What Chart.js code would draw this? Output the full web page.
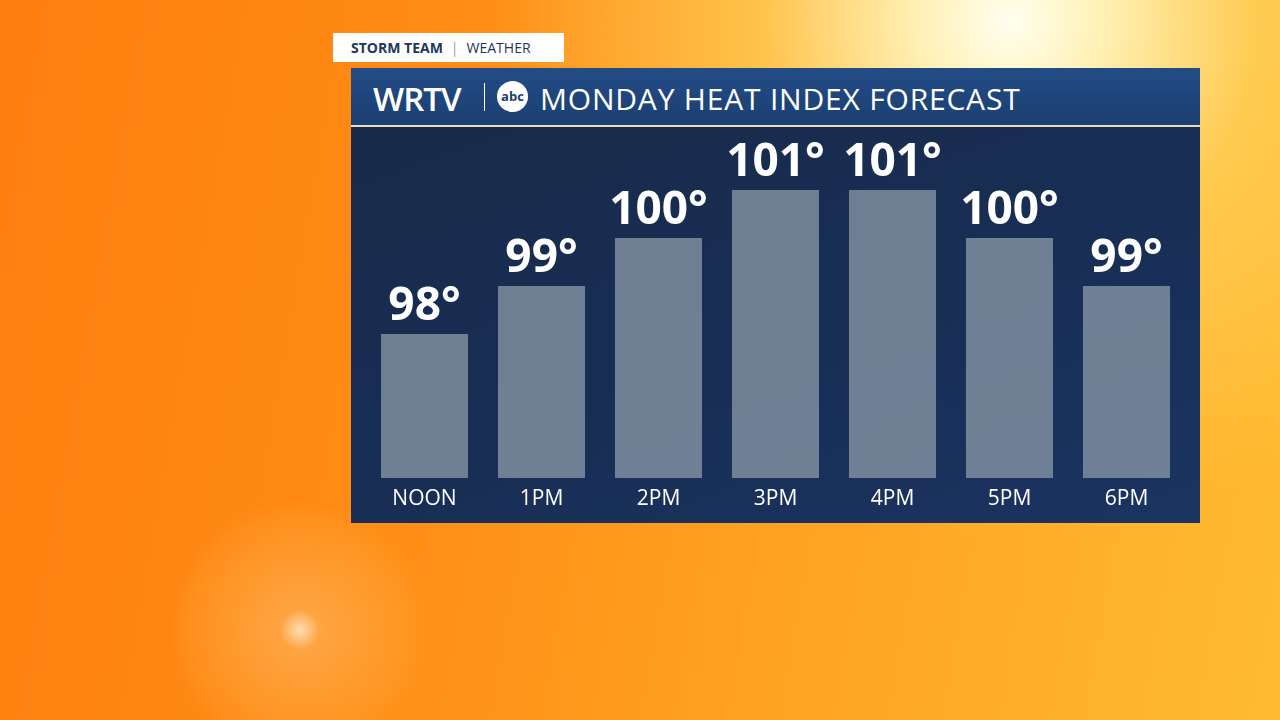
<!DOCTYPE html>
<html><head><meta charset="utf-8">
<script src="https://cdn.jsdelivr.net/npm/chart.js"></script>
<style>
html,body{margin:0;padding:0;width:1280px;height:720px;overflow:hidden;font-family:"Open Sans","Noto Sans",sans-serif;}
#bg{position:absolute;left:0;top:0;width:1280px;height:720px;
background:
radial-gradient(circle at 1010px 20px, rgba(255,255,240,1) 0px, rgba(255,245,190,0.95) 90px, rgba(255,215,100,0.65) 250px, rgba(255,180,40,0) 520px),
radial-gradient(circle at 300px 630px, rgba(255,230,200,0.9) 0px, rgba(255,190,110,0.5) 20px, rgba(255,170,60,0.25) 110px, rgba(255,150,30,0) 130px),
linear-gradient(100deg,#ff7f10 0%,#ff8a14 30%,#ffa020 60%,#ffbb30 100%);}
#panel{position:absolute;left:351px;top:68px;width:849px;height:455px;background:linear-gradient(160deg,#172a48 0%,#182e55 60%,#1b3461 100%);}
#hdr{position:absolute;left:351px;top:68px;width:849px;height:57px;background:linear-gradient(180deg,#234c86,#1b3f72);border-bottom:2px solid #e9dcb0;color:#fff;}
#tag{position:absolute;left:333px;top:33px;width:231px;height:29px;background:#fff;font-size:14px;line-height:29px;color:#1d3661;}
#c{position:absolute;left:0;top:0;}
</style></head><body>
<div id="bg"></div>
<div id="tag"><span style="margin-left:18px;font-weight:700">STORM TEAM</span><span style="margin:0 8px;color:#999">|</span><span>WEATHER</span></div>
<div id="panel"></div>
<div id="hdr">
 <span style="position:absolute;left:22px;top:8px;font-size:33px;font-weight:600;letter-spacing:-1px">WRTV</span>
 <span style="position:absolute;left:133px;top:15px;width:1px;height:28px;background:#fff"></span>
 <span style="position:absolute;left:146px;top:13px;width:31px;height:31px;border-radius:50%;background:#fff;color:#1b3f72;font-size:13px;font-weight:700;text-align:center;line-height:30px">abc</span>
 <span style="position:absolute;left:189px;top:10px;font-size:30px;letter-spacing:0.8px">MONDAY HEAT INDEX FORECAST</span>
</div>
<canvas id="c" width="1280" height="720"></canvas>
<script>
const categories=["NOON","1PM","2PM","3PM","4PM","5PM","6PM"];
const values=[98,99,100,101,101,100,99];
const labelPlugin={id:'lbl',afterDatasetsDraw(chart){
 const ctx=chart.ctx,meta=chart.getDatasetMeta(0);
 ctx.save();ctx.fillStyle='#fff';ctx.textAlign='center';
 meta.data.forEach((b,i)=>{
  ctx.font='700 46px "Open Sans"';ctx.textBaseline='alphabetic';
  ctx.fillText(values[i]+'°',b.x,b.y-14);
  ctx.font='400 21px "Open Sans"';ctx.textBaseline='middle';
  ctx.fillText(categories[i],b.x,chart.chartArea.bottom+21);
 });ctx.restore();}};
new Chart(document.getElementById('c'),{type:'bar',
 data:{labels:categories,datasets:[{data:values,backgroundColor:'rgba(140,155,170,0.75)',barPercentage:0.744,categoryPercentage:1}]},
 options:{responsive:false,animation:false,layout:{padding:{left:366,right:95,top:142,bottom:242}},
  plugins:{legend:{display:false},tooltip:{enabled:false}},
  scales:{x:{display:false},y:{display:false,min:95,max:102}}},
 plugins:[labelPlugin]});
</script></body></html>
